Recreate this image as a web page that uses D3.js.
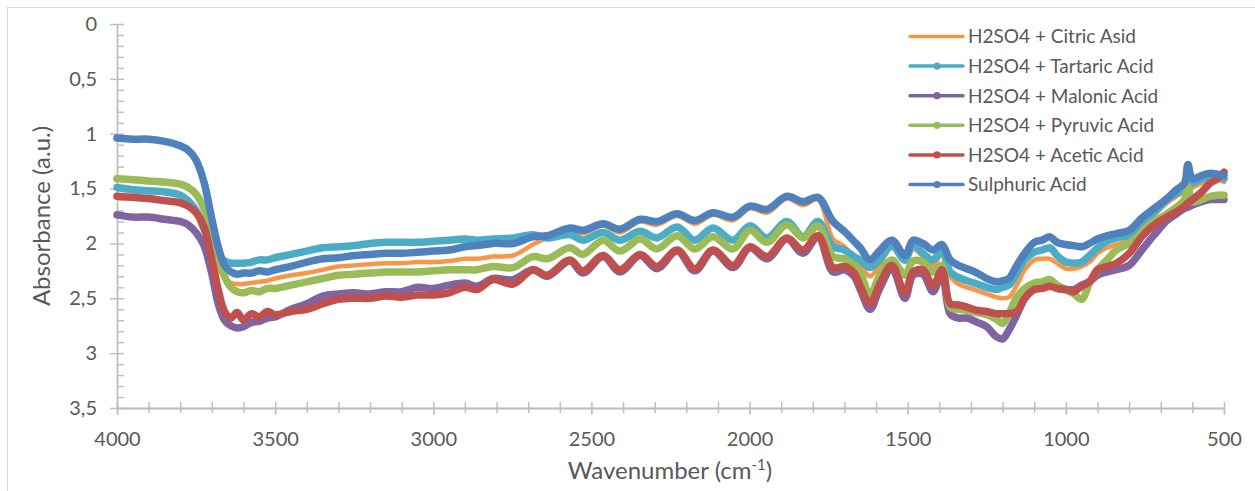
<!DOCTYPE html>
<html>
<head>
<meta charset="utf-8">
<script src="https://cdn.jsdelivr.net/npm/d3@7"></script>
<style>
  body { margin: 0; background: #fff; }
  text { font-family: Lato, "Open Sans", sans-serif; fill: #595959; }
</style>
</head>
<body>
<div id="chart"></div>
<script>
// wavenumber grid (cm-1)
var wavenumbers = [4000,3950,3900,3850,3800,3775,3750,3725,3700,3680,3660,3640,3620,3600,3575,3550,3525,3500,
  3450,3400,3350,3300,3250,3200,3150,3100,3050,3000,2950,2900,2862,2811,2748,2685,2640,
  2568,2527,2463,2410,2346,2293,2229,2173,2116,2052,1999,1945,1882,1831,1784,1736,
  1700,1670,1650,1619,1590,1550,1509,1483,1452,1420,1392,1366,1340,1313,1280,1250,1220,1200,
  1180,1155,1130,1100,1075,1050,1028,1000,975,950,925,900,870,840,800,760,720,680,650,625,614,600,570,544,520,500];

var citric = [1.50,1.52,1.53,1.54,1.57,1.62,1.70,1.87,2.06,2.22,2.32,2.36,2.37,2.37,2.36,2.35,2.34,2.32,
  2.29,2.27,2.24,2.21,2.20,2.19,2.18,2.18,2.17,2.17,2.16,2.14,2.14,2.12,2.11,2.01,1.95,
  1.88,1.91,1.84,1.90,1.80,1.83,1.75,1.82,1.74,1.79,1.68,1.72,1.59,1.65,1.60,1.96,
  2.03,2.15,2.20,2.30,2.20,2.04,2.17,2.05,2.12,2.20,2.10,2.30,2.37,2.40,2.43,2.46,2.49,2.50,
  2.49,2.38,2.24,2.15,2.14,2.14,2.18,2.23,2.23,2.21,2.17,2.09,2.04,2.01,1.97,1.85,1.74,1.63,1.57,1.53,1.51,1.49,1.45,1.43,1.42,1.44];

var tartaric = [1.49,1.51,1.52,1.53,1.56,1.61,1.70,1.87,2.02,2.11,2.16,2.18,2.18,2.18,2.17,2.15,2.15,2.13,
  2.10,2.07,2.04,2.03,2.02,2.00,1.99,1.99,1.99,1.98,1.97,1.96,1.97,1.96,1.95,1.92,1.95,
  1.92,1.97,1.90,1.97,1.89,1.95,1.85,1.97,1.86,1.97,1.84,1.95,1.80,1.94,1.80,2.03,
  2.06,2.12,2.15,2.22,2.15,2.02,2.15,2.01,2.09,2.15,2.06,2.26,2.31,2.34,2.37,2.40,2.42,2.40,
  2.38,2.27,2.15,2.08,2.06,2.04,2.11,2.17,2.18,2.17,2.11,2.04,1.98,1.95,1.92,1.80,1.71,1.60,1.54,1.50,1.47,1.45,1.41,1.39,1.39,1.41];

var malonic = [1.74,1.76,1.76,1.78,1.80,1.83,1.90,2.02,2.28,2.55,2.70,2.75,2.77,2.76,2.72,2.71,2.68,2.67,
  2.60,2.55,2.48,2.46,2.45,2.46,2.44,2.44,2.40,2.41,2.38,2.36,2.39,2.32,2.33,2.24,2.30,
  2.16,2.27,2.12,2.26,2.11,2.23,2.07,2.25,2.07,2.22,2.04,2.14,1.96,2.09,1.94,2.26,
  2.24,2.30,2.42,2.60,2.42,2.23,2.50,2.29,2.28,2.44,2.27,2.64,2.68,2.68,2.72,2.76,2.85,2.87,
  2.79,2.65,2.50,2.39,2.37,2.36,2.41,2.42,2.42,2.38,2.35,2.29,2.26,2.24,2.20,2.06,1.92,1.79,1.73,1.68,1.67,1.65,1.62,1.60,1.60,1.60];

var pyruvic = [1.41,1.42,1.43,1.44,1.46,1.49,1.55,1.68,1.90,2.10,2.30,2.40,2.44,2.45,2.43,2.44,2.41,2.41,
  2.38,2.35,2.32,2.29,2.28,2.27,2.26,2.26,2.26,2.25,2.24,2.24,2.24,2.21,2.22,2.12,2.14,
  2.04,2.10,1.97,2.07,1.96,2.05,1.93,2.05,1.94,2.05,1.88,1.99,1.83,1.95,1.84,2.12,
  2.14,2.20,2.27,2.47,2.30,2.15,2.29,2.16,2.17,2.26,2.20,2.58,2.60,2.61,2.63,2.65,2.69,2.73,
  2.64,2.49,2.41,2.36,2.35,2.33,2.38,2.42,2.46,2.51,2.36,2.24,2.15,2.06,2.00,1.91,1.80,1.73,1.67,1.60,1.48,1.62,1.60,1.57,1.56,1.56];

var acetic = [1.57,1.58,1.59,1.61,1.63,1.66,1.72,1.85,2.15,2.42,2.62,2.68,2.63,2.70,2.64,2.67,2.62,2.65,
  2.62,2.60,2.55,2.51,2.50,2.50,2.48,2.49,2.47,2.47,2.45,2.40,2.42,2.33,2.37,2.24,2.29,
  2.15,2.25,2.11,2.24,2.10,2.21,2.06,2.23,2.06,2.20,2.03,2.12,1.95,2.06,1.93,2.22,
  2.21,2.27,2.39,2.55,2.38,2.20,2.45,2.26,2.24,2.39,2.24,2.55,2.56,2.58,2.61,2.62,2.64,2.64,
  2.64,2.62,2.50,2.42,2.41,2.39,2.41,2.42,2.44,2.39,2.35,2.24,2.21,2.18,2.09,1.94,1.83,1.76,1.71,1.66,1.63,1.60,1.53,1.45,1.41,1.35];

var sulphuric = [1.04,1.05,1.05,1.07,1.11,1.15,1.24,1.44,1.78,2.03,2.20,2.26,2.28,2.27,2.27,2.25,2.26,2.24,
  2.21,2.17,2.14,2.13,2.11,2.10,2.09,2.09,2.08,2.07,2.06,2.03,2.02,2.00,2.00,1.94,1.93,
  1.86,1.88,1.82,1.87,1.78,1.80,1.73,1.79,1.72,1.76,1.66,1.69,1.57,1.62,1.58,1.80,
  1.89,1.98,2.04,2.15,2.07,1.97,2.11,1.97,2.00,2.06,2.01,2.15,2.20,2.23,2.27,2.32,2.35,2.34,
  2.32,2.20,2.09,1.99,1.97,1.94,1.99,2.01,2.02,2.03,2.00,1.96,1.93,1.91,1.88,1.77,1.68,1.59,1.51,1.45,1.28,1.41,1.38,1.36,1.37,1.38];

var seriesNames = ['H2SO4 + Citric Asid','H2SO4 + Tartaric Acid','H2SO4 + Malonic Acid',
  'H2SO4 + Pyruvic Acid','H2SO4 + Acetic Acid','Sulphuric Acid'];
var seriesValues = [citric, tartaric, malonic, pyruvic, acetic, sulphuric];
var seriesColors = ['#F79646','#4BACC6','#8064A2','#9BBB59','#C0504D','#4F81BD'];
var seriesMarkers = [false, true, true, true, true, true];

var yTicks = [0,0.5,1,1.5,2,2.5,3,3.5];
var xTicks = [4000,3500,3000,2500,2000,1500,1000,500];

var W = 1255, H = 491;

var svg = d3.select('#chart').append('svg')
  .attr('width', W)
  .attr('height', H);

// chart frame
svg.append('rect')
  .attr('x', 7.5).attr('y', 7.5)
  .attr('width', 1300).attr('height', 600)
  .style('fill', '#fff')
  .style('stroke', '#d9d9d9')
  .style('stroke-width', 1);

var x = d3.scaleLinear().domain([4000, 500]).range([117, 1224]);
var y = d3.scaleLinear().domain([0, 3.5]).range([24, 408]);

var minorY = d3.range(0, 36).map(d => d / 10);
var minorX = d3.range(500, 4001, 100);

function styleAxis(g){
  g.selectAll('path, line').style('stroke', '#bfbfbf').style('stroke-width', 1.5);
  g.selectAll('text').style('font-family', 'Lato, sans-serif').style('fill', '#595959');
}

// y axis: minor ticks inside, major ticks crossing
svg.append('g')
  .attr('transform', 'translate(117,0)')
  .call(d3.axisRight(y).tickValues(minorY).tickSize(7).tickSizeOuter(0).tickFormat(''))
  .call(styleAxis);

svg.append('g')
  .attr('transform', 'translate(117,0)')
  .call(d3.axisLeft(y).tickValues(yTicks).tickSize(7).tickSizeOuter(0).tickPadding(13)
    .tickFormat(d => String(d).replace('.', ',')))
  .call(styleAxis)
  .selectAll('text').style('font-size', '20px');

// x axis
svg.append('g')
  .attr('transform', 'translate(0,408)')
  .call(d3.axisTop(x).tickValues(minorX).tickSize(6).tickSizeOuter(0).tickFormat(''))
  .call(styleAxis);

svg.append('g')
  .attr('transform', 'translate(0,408)')
  .call(d3.axisBottom(x).tickValues(minorX).tickSize(5).tickSizeOuter(0).tickFormat(''))
  .call(styleAxis);

svg.append('g')
  .attr('transform', 'translate(0,408)')
  .call(d3.axisBottom(x).tickValues(xTicks).tickSize(7).tickSizeOuter(0).tickPadding(17)
    .tickFormat(d3.format('d')))
  .call(styleAxis)
  .selectAll('text').style('font-size', '20px');

// series
var line = d3.line()
  .x((d, i) => x(wavenumbers[i]))
  .y(d => y(d))
  .curve(d3.curveCatmullRom.alpha(0.5));

var plot = svg.append('g').attr('class', 'series');

seriesValues.forEach(function(vals, k){
  plot.append('path')
    .datum(vals)
    .attr('d', line)
    .style('fill', 'none')
    .style('stroke', seriesColors[k])
    .style('stroke-width', seriesMarkers[k] ? 7.5 : 4.5)
    .style('stroke-linejoin', 'round')
    .style('stroke-linecap', 'round');
});

// axis titles
svg.append('text')
  .attr('transform', 'translate(50,216) rotate(-90)')
  .attr('text-anchor', 'middle')
  .style('font-size', '24px')
  .text('Absorbance (a.u.)');

var xt = svg.append('text')
  .attr('x', 670).attr('y', 479)
  .attr('text-anchor', 'middle')
  .style('font-size', '24px');
xt.append('tspan').text('Wavenumber (cm');
xt.append('tspan').attr('dy', -9).style('font-size', '15px').text('-1');
xt.append('tspan').attr('dy', 9).text(')');

// legend
var legend = svg.append('g').attr('class', 'legend');
seriesNames.forEach(function(name, k){
  var ly = 36.5 + k * 29.6;
  legend.append('line')
    .attr('x1', 910).attr('x2', 963)
    .attr('y1', ly).attr('y2', ly)
    .style('stroke', seriesColors[k])
    .style('stroke-width', 3.5)
    .style('stroke-linecap', 'round');
  if (seriesMarkers[k]) {
    legend.append('circle')
      .attr('cx', 937).attr('cy', ly).attr('r', 3.6)
      .style('fill', seriesColors[k]);
  }
  legend.append('text')
    .attr('x', 968).attr('y', ly)
    .attr('dy', '0.36em')
    .style('font-size', '19px')
    .text(name);
});
</script>
</body>
</html>
